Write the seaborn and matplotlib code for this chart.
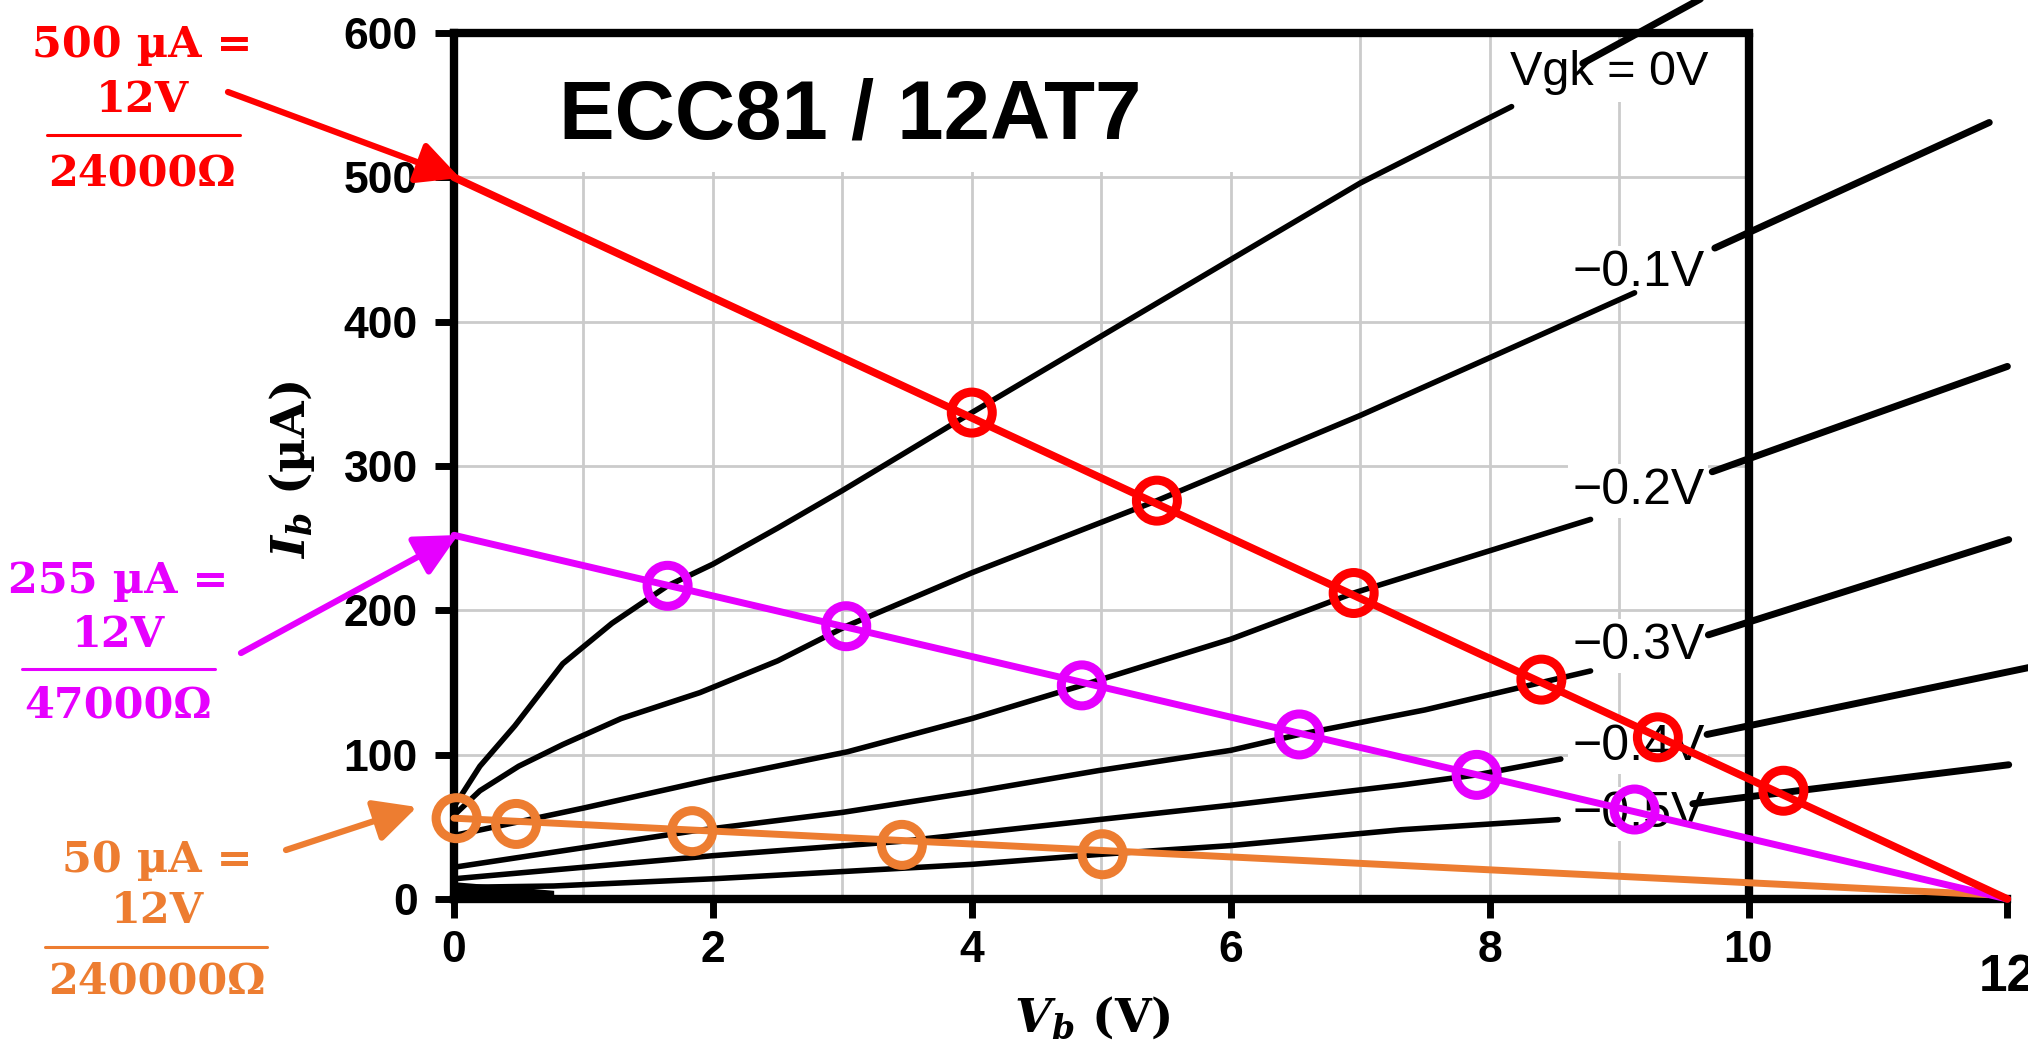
import matplotlib as mpl
mpl.use("Agg")
import matplotlib.pyplot as plt
import matplotlib.patches as patches
from matplotlib.lines import Line2D
import seaborn as sns

# load lines (Vb in V, Ib in uA)
red_x = [0, 12]
red_y = [500, 0]
red_cx = [4.0, 5.43, 6.95, 8.4, 9.3, 10.27]
red_cy = [337, 276, 212, 152, 112, 75]
mag_x = [0, 12]
mag_y = [252, 0]
mag_cx = [1.65, 3.03, 4.85, 6.53, 7.9, 9.12]
mag_cy = [217, 189, 148, 114, 86, 62]
ora_x = [0, 11.85]
ora_y = [56, 3]
ora_cx = [0.02, 0.48, 1.84, 3.46, 5.01]
ora_cy = [56, 52, 47, 37.5, 31]

# plate characteristics, one per grid voltage
vg0_x = [0, 0.2, 0.47, 0.84, 1.22, 1.65, 2.0, 2.5, 3.0, 4.0, 5.0, 6.0, 7.0, 8.17]
vg0_y = [64, 92, 120, 163, 191, 217, 232, 257, 283, 337, 390, 443, 496, 549]
vg1_x = [0, 0.2, 0.5, 0.84, 1.29, 1.9, 2.5, 3.03, 4.0, 5.43, 7.0, 8.0, 9.12]
vg1_y = [58, 75, 92, 107, 125, 143, 165, 189, 226, 276, 335, 375, 420]
vg2_x = [0, 1, 2, 3.04, 4.0, 4.85, 6.0, 6.95, 8.78]
vg2_y = [44, 63, 83, 102, 125, 148, 180, 212, 263]
vg3_x = [0, 1.84, 3.0, 4.0, 4.98, 6.0, 6.53, 7.5, 8.4, 8.78]
vg3_y = [22, 47, 60, 74, 89, 103, 114, 131, 150, 158]
vg4_x = [0, 1, 2, 3.46, 4.98, 6.0, 7.32, 7.9, 8.55]
vg4_y = [14, 22, 30, 40, 55, 65, 79, 86, 97]
vg5_x = [0, 0.77, 2, 3, 4, 5.0, 6.0, 7.32, 8.53]
vg5_y = [8, 9, 14, 19, 24, 31, 37, 48, 55]
low_x = [0, 0.4, 0.77]
low_y = [12, 9, 6]

# hand-drawn extensions of the curves out to 12 V
ext0_x, ext0_y = [8.72, 9.78], [579, 631]
ext1_x, ext1_y = [9.74, 11.86], [451, 538]
ext2_x, ext2_y = [9.72, 12.0], [296, 369]
ext3_x, ext3_y = [9.69, 12.01], [183, 249]
ext4_x, ext4_y = [9.68, 12.2], [114, 161]
ext5_x, ext5_y = [9.57, 12.01], [66, 93]

curve_labels = ["\u22120.1V", "\u22120.2V", "\u22120.3V", "\u22120.4V", "\u22120.5V"]
curve_label_y = [425, 274, 166, 96, 50]

x_ticks = [0, 2, 4, 6, 8, 10, 12]
y_ticks = [0, 100, 200, 300, 400, 500, 600]
grid_x = [1, 2, 3, 4, 5, 6, 7, 8, 9]
grid_y = [100, 200, 300, 400, 500]

red_txt = ["500 \u00b5A =", "12V", "24000\u03a9"]
mag_txt = ["255 \u00b5A =", "12V", "47000\u03a9"]
ora_txt = ["50 \u00b5A =", "12V", "240000\u03a9"]

RED = "#ff0000"
MAG = "#e600ff"
ORA = "#ed7d31"

W, H = 2028, 1045

sns.set_style("ticks")
plt.rcParams['font.family'] = ['Liberation Sans', 'DejaVu Sans']
plt.rcParams['mathtext.fontset'] = 'dejavuserif'
plt.rcParams['text.color'] = 'k'


def fp(x, y):
    return x / W, 1 - y / H


fig = plt.figure(figsize=(W / 100, H / 100), dpi=100)
ax = fig.add_axes([454 / W, (H - 899) / H, 1553.4 / W, 866 / H])
ax.set_xlim(0, 12)
ax.set_ylim(0, 600)

for s in ['left', 'bottom', 'top']:
    ax.spines[s].set_linewidth(6)
    ax.spines[s].set_color('k')
ax.spines['right'].set_visible(False)
ax.spines['top'].set_bounds(0, 10)
ax.plot([10, 10], [0, 600], color='k', lw=6, solid_capstyle='projecting', zorder=2.5)

ax.set_xticks(x_ticks)
ax.set_yticks(y_ticks)
ax.tick_params(direction='out', length=14, width=5, labelsize=32, colors='k')
ax.tick_params(axis='x', pad=8)
ax.tick_params(axis='y', pad=12)
for lab in ax.get_xticklabels() + ax.get_yticklabels():
    lab.set_fontweight('bold')
last = ax.xaxis.get_major_ticks()[-1]
last.tick1line.set_markersize(32)
last.label1.set_fontsize(37)
last.set_pad(25)
ax.set_xlabel('')
ax.set_ylabel('')

# grid inside the frame only
ax.vlines(grid_x, 0, 600, color='#cbcbcb', lw=2, zorder=1)
ax.hlines(grid_y, 0, 10, color='#cbcbcb', lw=2, zorder=1)
ax.add_patch(patches.Rectangle((0.05, 504), 6.0, 93, fc='white', ec='none', zorder=1.5))

ax.text(3.06, 527, 'ECC81 / 12AT7', fontsize=60, fontweight='bold', ha='center',
        va='baseline', zorder=2)
ax.text(9.69, 564, 'Vgk = 0V', fontsize=35, ha='right', va='baseline', zorder=2,
        bbox=dict(fc='white', ec='none', pad=5))
for lab, ly in zip(curve_labels, curve_label_y):
    ax.text(9.66, ly, lab, fontsize=36, ha='right', va='baseline', zorder=2,
            bbox=dict(fc='white', ec='none', pad=3))

for cx, cy in [(vg0_x, vg0_y), (vg1_x, vg1_y), (vg2_x, vg2_y), (vg3_x, vg3_y),
               (vg4_x, vg4_y), (vg5_x, vg5_y)]:
    sns.lineplot(x=cx, y=cy, color='k', lw=4, sort=False, estimator=None, ax=ax, zorder=3)
ax.fill_between(low_x, 0, low_y, color='k', lw=0, zorder=3)
for cx, cy in [(ext0_x, ext0_y), (ext1_x, ext1_y), (ext2_x, ext2_y), (ext3_x, ext3_y),
               (ext4_x, ext4_y), (ext5_x, ext5_y)]:
    sns.lineplot(x=cx, y=cy, color='k', lw=5, sort=False, estimator=None, ax=ax,
                 zorder=3, clip_on=False, solid_capstyle='round')

for lx, ly, cx, cy, col, lw in [(ora_x, ora_y, ora_cx, ora_cy, ORA, 5),
                                (mag_x, mag_y, mag_cx, mag_cy, MAG, 5),
                                (red_x, red_y, red_cx, red_cy, RED, 5.5)]:
    sns.lineplot(x=lx, y=ly, color=col, lw=lw, sort=False, estimator=None, ax=ax,
                 zorder=4, clip_on=False, solid_capstyle='round')
    sns.scatterplot(x=cx, y=cy, s=870, facecolors='none', edgecolor=col, linewidth=6.5,
                    ax=ax, zorder=5, clip_on=False, legend=False)

# arrows from the annotations to the axis
for tail, tip, col in [((228, 92), (460, 178), RED),
                       ((241, 653), (458, 535), MAG),
                       ((286, 850), (417, 807), ORA)]:
    ax.annotate('', xy=(tip[0], H - tip[1]), xycoords='figure pixels',
                xytext=(tail[0], H - tail[1]), textcoords='figure pixels',
                arrowprops=dict(arrowstyle='-|>,head_length=26,head_width=13',
                                mutation_scale=1, lw=4.5, color=col,
                                shrinkA=0, shrinkB=0, capstyle='round'),
                annotation_clip=False)

# I = V / R annotations
for txt, cx, ys, bar, col in [(red_txt, 142, (57, 112, 185), (47, 240, 135), RED),
                              (mag_txt, 118, (593, 647, 717), (22, 215, 669), MAG),
                              (ora_txt, 157, (872, 923, 993), (45, 267, 947), ORA)]:
    for t, y in zip(txt, ys):
        fig.text(*fp(cx, y), t, color=col, fontsize=31, fontweight='bold',
                 family='DejaVu Serif', ha='center', va='baseline')
    fig.add_artist(Line2D([bar[0] / W, bar[1] / W], [1 - bar[2] / H] * 2, color=col,
                          lw=2.2, transform=fig.transFigure))

fig.text(*fp(292, 470), r'$\mathbfit{I_b}$ (µA)', rotation=90, ha='center', va='center',
         fontsize=34, fontweight='bold', family='DejaVu Serif')
fig.text(*fp(1092, 1018), r'$\mathbfit{V_b}$ (V)', ha='center', va='center',
         fontsize=34, fontweight='bold', family='DejaVu Serif')

plt.savefig('out.png', dpi=100, facecolor='white')
